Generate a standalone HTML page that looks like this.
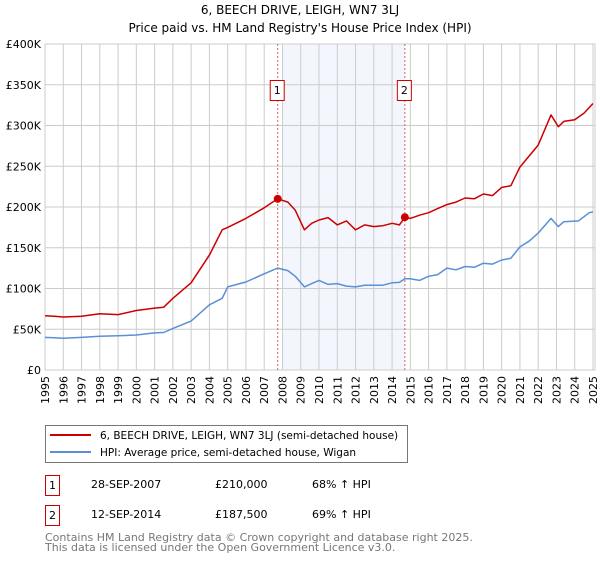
<!DOCTYPE html>
<html><head><meta charset="utf-8">
<style>
body{margin:0;background:#fff;font-family:"DejaVu Sans","Liberation Sans",sans-serif;}
svg text{font-family:"DejaVu Sans","Liberation Sans",sans-serif;}
</style></head>
<body>
<svg id="c" width="600" height="560" xmlns="http://www.w3.org/2000/svg">
<text x="300" y="14" text-anchor="middle" font-size="12" fill="#000">6, BEECH DRIVE, LEIGH, WN7 3LJ</text>
<text x="300" y="32" text-anchor="middle" font-size="12" fill="#000">Price paid vs. HM Land Registry's House Price Index (HPI)</text>
<g id="plot"></g>
<g>
<rect x="45.5" y="425.5" width="362" height="37" fill="#fff" stroke="#777"/>
<line x1="50" y1="435" x2="91" y2="435" stroke="#cc0000" stroke-width="2"/>
<text x="100" y="439" font-size="10.5">6, BEECH DRIVE, LEIGH, WN7 3LJ (semi-detached house)</text>
<line x1="50" y1="452" x2="91" y2="452" stroke="#5b8fd6" stroke-width="2"/>
<text x="100" y="456" font-size="10.5">HPI: Average price, semi-detached house, Wigan</text>
</g>
<g font-size="11">
<rect x="45.5" y="475.5" width="14" height="20" fill="#fff" stroke="#cc0000"/>
<text x="52.5" y="489" text-anchor="middle">1</text>
<text x="91" y="488">28-SEP-2007</text>
<text x="215" y="488">£210,000</text>
<text x="312" y="488">68% ↑ HPI</text>
<rect x="45.5" y="505.5" width="14" height="20" fill="#fff" stroke="#cc0000"/>
<text x="52.5" y="519" text-anchor="middle">2</text>
<text x="91" y="518">12-SEP-2014</text>
<text x="215" y="518">£187,500</text>
<text x="312" y="518">69% ↑ HPI</text>
</g>
<text x="45" y="541" font-size="11" fill="#777">Contains HM Land Registry data © Crown copyright and database right 2025.</text>
<text x="45" y="551" font-size="11" fill="#777">This data is licensed under the Open Government Licence v3.0.</text>
</svg>
<script>
const yTicks=[0,50,100,150,200,250,300,350,400];
const yTickLabels=["£0","£50K","£100K","£150K","£200K","£250K","£300K","£350K","£400K"];
const xYears=[1995,1996,1997,1998,1999,2000,2001,2002,2003,2004,2005,2006,2007,2008,2009,2010,2011,2012,2013,2014,2015,2016,2017,2018,2019,2020,2021,2022,2023,2024,2025];
const hpiT=[1995,1995.5,1996,1997,1998,1999,2000,2001,2001.5,2002,2003,2004,2004.7,2005,2006,2007,2007.74,2008.3,2008.7,2009.2,2009.6,2010,2010.5,2011,2011.5,2012,2012.5,2013,2013.5,2014,2014.4,2014.7,2015,2015.5,2016,2016.5,2017,2017.5,2018,2018.5,2019,2019.5,2020,2020.5,2021,2021.5,2022,2022.7,2023.1,2023.4,2024.2,2024.5,2024.8,2025];
const hpiV=[40,39.5,39,40,41.5,42,43,45.5,46,51,60,80,88,102,108,118,125,122,115,102,106,110,105,106,103,102,104,104,104,107,107.5,112,112,110,115,117,125,123,127,126,131,130,135,137,151,158,168,186,176,182,183,188,193,194];
const redT=[1995,1995.5,1996,1997,1998,1999,2000,2001,2001.5,2002,2003,2004,2004.7,2005,2006,2007,2007.74,2008.3,2008.7,2009.2,2009.6,2010,2010.5,2011,2011.5,2012,2012.5,2013,2013.5,2014,2014.4,2014.7,2015,2015.5,2016,2016.5,2017,2017.5,2018,2018.5,2019,2019.5,2020,2020.5,2021,2022,2022.7,2023.1,2023.4,2024,2024.5,2025];
const redV=[66.5,66,65,66,69,68,73,76,77,88,107,141,172,175,186,199,210,206,196,172,180,184,187,178,183,172,178,176,177,180,178,187.5,186,190,193,198,203,206,211,210,216,214,224,226,249,276,313,298.5,305,307,315,327];
const sales=[{t:2007.74,v:210,n:"1"},{t:2014.7,v:187.5,n:"2"}];
const X0=45,X1=593,Y0=370,Y1=44;
const xs=t=>X0+(t-1995)/(2025-1995)*(X1-X0);
const ys=v=>Y0-v/400*(Y0-Y1);
const ns="http://www.w3.org/2000/svg",g=document.getElementById('plot');
function mk(tag,at){const e=document.createElementNS(ns,tag);for(const k in at)e.setAttribute(k,at[k]);g.appendChild(e);return e;}
let e=mk('rect',{x:xs(2008),y:Y1,width:xs(2014.7)-xs(2008),height:Y0-Y1,fill:'#eef3fc',opacity:0.7});


xYears.forEach((yr,i)=>{
 let l=mk('line',{x1:xs(yr),x2:xs(yr),y1:Y1,y2:Y0,stroke:'#ccc','stroke-width':1});
 
 
 let t=mk('text',{x:0,y:0,'font-size':11,'text-anchor':'end',transform:`translate(${xs(yr)+4},${Y0+6}) rotate(-90)`});
 t.textContent=yr;
 
 
});
yTicks.forEach((v,i)=>{
 let l=mk('line',{x1:X0,x2:X1+2,y1:ys(v),y2:ys(v),stroke:'#ccc','stroke-width':1});
 
 
 let t=mk('text',{x:41,y:ys(v)+4,'font-size':11,'text-anchor':'end'});
 t.textContent=yTickLabels[i];
 
 
});
e=mk('rect',{x:X0,y:Y1,width:X1+2-X0,height:Y0-Y1,fill:'none',stroke:'#ccc'});


sales.forEach(s=>{
 let l=mk('line',{x1:xs(s.t),x2:xs(s.t),y1:Y1,y2:Y0,stroke:'#e06060','stroke-dasharray':'2,2','stroke-width':1});
 
 
 let r=mk('rect',{x:xs(s.t)-7.5,y:80.5,width:14,height:20,fill:'#fff',stroke:'#cc0000'});
 
 
 let t=mk('text',{x:xs(s.t)-0.5,y:94,'font-size':11,'text-anchor':'middle'});
 t.textContent=s.n;
 
 
});
function line(T,V,col,name){
 let p=mk('polyline',{points:T.map((t,i)=>xs(t).toFixed(1)+','+ys(V[i]).toFixed(1)).join(' '),fill:'none',stroke:col,'stroke-width':1.5,'stroke-linejoin':'round'});
 
 
}
line(hpiT,hpiV,'#5b8fd6','hpi-line');
line(redT,redV,'#cc0000','property-price-line');
sales.forEach(s=>{
 let c=mk('circle',{cx:xs(s.t),cy:ys(s.v),r:4,fill:'#cc0000'});
 
 
});
</script>
</body></html>
